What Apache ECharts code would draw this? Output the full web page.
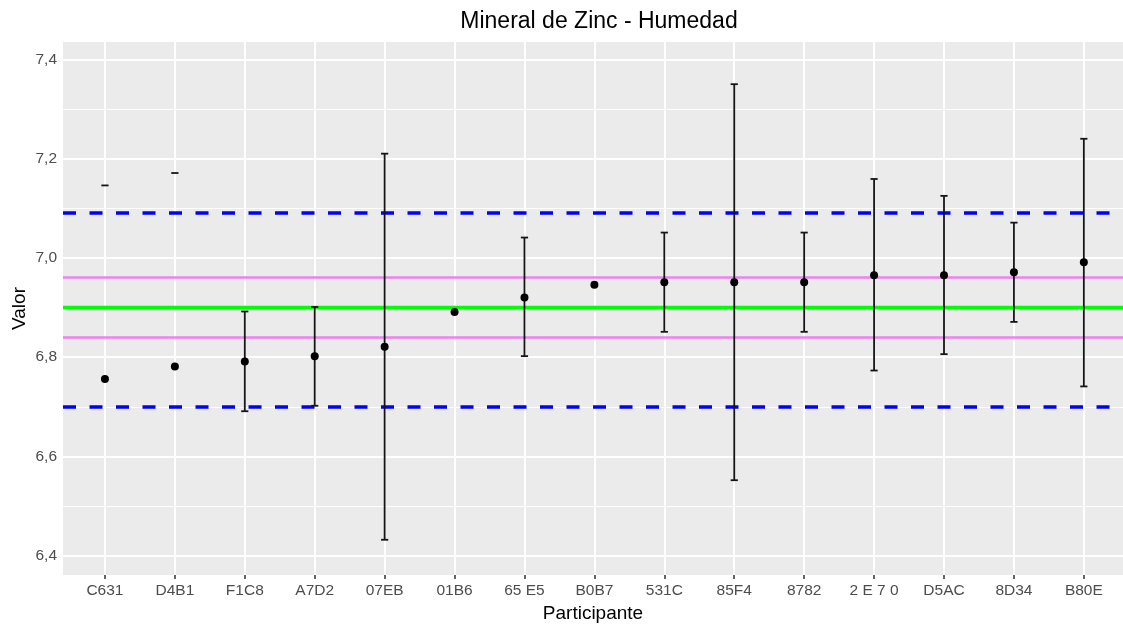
<!DOCTYPE html>
<html>
<head>
<meta charset="utf-8">
<script src="https://cdn.jsdelivr.net/npm/echarts@6/dist/echarts.min.js"></script>
<style>html,body{margin:0;padding:0;background:#fff}#chart{width:1123px;height:626px}</style>
</head>
<body>
<div id="chart"></div>
<script>
// ---- data ----
const categories = ['C631','D4B1','F1C8','A7D2','07EB','01B6','65 E5','B0B7','531C','85F4','8782','2 E 7 0','D5AC','8D34','B80E'];
const values     = [6.756, 6.781, 6.791, 6.802, 6.821, 6.891, 6.920, 6.946, 6.951, 6.951, 6.951, 6.965, 6.965, 6.971, 6.991];
const lowerBar   = [null, null, 6.691, 6.702, 6.432, null, 6.802, null, 6.851, 6.552, 6.851, 6.773, 6.806, 6.871, 6.741];
const upperBar   = [7.146, 7.171, 6.892, 6.901, 7.210, null, 7.041, null, 7.051, 7.350, 7.051, 7.159, 7.125, 7.071, 7.240];
const centerLine = 6.897;
const innerLimits = [6.837, 6.957];
const outerLimits = [6.702, 7.092];
const yTicks = [6.4, 6.6, 6.8, 7.0, 7.2, 7.4];
const yMinorTicks = [6.5, 6.7, 6.9, 7.1, 7.3];

const FONT = "'Liberation Sans', Arial, sans-serif";
const xIdx = categories.map((c, i) => i);

const chart = echarts.init(document.getElementById('chart'), null, {renderer: 'canvas'});

const noSym = ['none', 'none'];
function hLines(vals, style) {
  return vals.map(v => ({yAxis: v, lineStyle: style}));
}

const option = {
  animation: false,
  backgroundColor: '#ffffff',
  title: {
    text: 'Mineral de Zinc - Humedad',
    left: 594, top: 5, textAlign: 'center',
    textStyle: {fontFamily: FONT, fontSize: 23, fontWeight: 'normal', color: '#000'}
  },
  grid: {
    left: 63, right: 0, top: 42, bottom: 51,
    outerBoundsMode: 'none', containLabel: false,
    show: true, backgroundColor: '#EBEBEB', borderWidth: 0
  },
  xAxis: {
    type: 'value', min: -0.6, max: 14.56,
    name: 'Participante', nameLocation: 'middle', nameGap: 27,
    nameTextStyle: {fontFamily: FONT, fontSize: 19, color: '#000'},
    axisLine: {show: false},
    axisTick: {show: true, length: 4, customValues: xIdx, lineStyle: {color: '#333', width: 1.5}},
    axisLabel: {customValues: xIdx, margin: 8, fontFamily: FONT, fontSize: 15.5, color: '#4D4D4D',
      formatter: v => categories[Math.round(v)] || ''},
    splitLine: {show: false}
  },
  yAxis: {
    type: 'value', min: 6.361, max: 7.435,
    name: 'Valor', nameLocation: 'middle', nameGap: 34, nameMoveOverlap: false,
    nameTextStyle: {fontFamily: FONT, fontSize: 19, color: '#000'},
    axisLine: {show: false},
    axisTick: {show: true, length: 4, customValues: yTicks, lineStyle: {color: '#333', width: 1.5}},
    axisLabel: {customValues: yTicks, margin: 6, fontFamily: FONT, fontSize: 15.5, color: '#4D4D4D',
      formatter: v => v.toFixed(1).replace('.', ',')},
    splitLine: {show: false}
  },
  series: [
    { // panel grid lines
      type: 'line', data: [], z: 1, silent: true,
      markLine: {
        z: 1, silent: true, symbol: noSym, label: {show: false}, animation: false,
        data: [
          ...yMinorTicks.map(v => ({yAxis: v, lineStyle: {color: '#fff', width: 1, type: 'solid'}})),
          ...yTicks.map(v => ({yAxis: v, lineStyle: {color: '#fff', width: 2, type: 'solid'}})),
          ...xIdx.map(v => ({xAxis: v, lineStyle: {color: '#fff', width: 2, type: 'solid'}}))
        ]
      }
    },
    { // reference lines
      type: 'line', data: [], z: 2, silent: true,
      markLine: {
        z: 2, silent: true, symbol: noSym, label: {show: false}, animation: false,
        data: [
          ...hLines(outerLimits, {color: '#0000FF', width: 3.5, type: [13, 13.5], dashOffset: 0}),
          ...hLines(innerLimits, {color: '#EE82EE', width: 2.6, type: 'solid'}),
          ...hLines([centerLine], {color: '#00FF00', width: 3.4, type: 'solid'})
        ]
      }
    },
    { // error bars
      type: 'custom', z: 6, silent: true,
      data: xIdx.map(i => [i, lowerBar[i] === null ? NaN : lowerBar[i], upperBar[i] === null ? NaN : upperBar[i]]),
      encode: {x: 0, y: [1, 2]},
      renderItem: function (params, api) {
        const x = api.value(0), lo = api.value(1), hi = api.value(2);
        const children = [];
        const cw = 3.6;
        const style = {stroke: '#151515', lineWidth: 1.8};
        if (!isNaN(hi)) {
          const p = api.coord([x, hi]);
          children.push({type: 'line', shape: {x1: p[0] - cw, y1: p[1], x2: p[0] + cw, y2: p[1]}, style: style});
          if (!isNaN(lo)) {
            const q = api.coord([x, lo]);
            children.push({type: 'line', shape: {x1: p[0], y1: p[1], x2: q[0], y2: q[1]}, style: style});
            children.push({type: 'line', shape: {x1: q[0] - cw, y1: q[1], x2: q[0] + cw, y2: q[1]}, style: style});
          }
        }
        return {type: 'group', children: children};
      }
    },
    { // points
      type: 'scatter', z: 7, silent: true,
      symbol: 'circle', symbolSize: 8,
      itemStyle: {color: '#000', opacity: 1},
      data: xIdx.map(i => [i, values[i]])
    }
  ]
};
chart.setOption(option);
</script>
</body>
</html>
